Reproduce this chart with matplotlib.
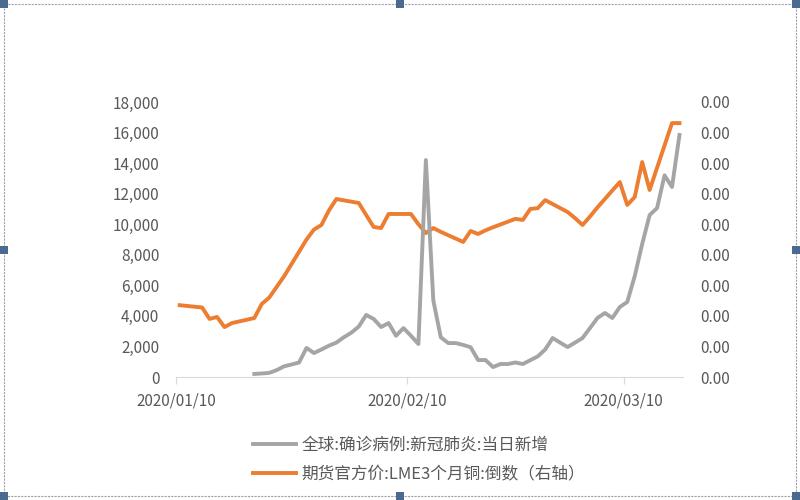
import numpy as np
import pandas as pd
import matplotlib
matplotlib.use("Agg")
import matplotlib.pyplot as plt
import matplotlib.dates as mdates
from matplotlib.patches import Rectangle
from matplotlib.ticker import FuncFormatter

plt.rcParams['font.family'] = ['Noto Sans CJK SC', 'DejaVu Sans']

# global new confirmed cases per day (left axis)
case_dates = pd.date_range('2020-01-20', '2020-03-17')
new_cases = [200, 230, 270, 450, 700, 820, 950, 1900, 1570, 1800,
             2050, 2250, 2600, 2900, 3300, 4060, 3800, 3270, 3530, 2700,
             3200, 2700, 2160, 14200, 5000, 2600, 2220, 2220, 2100, 1950,
             1110, 1110, 650, 850, 850, 950, 850, 1100, 1350, 1800,
             2550, 2250, 1960, 2250, 2550, 3200, 3860, 4190, 3860, 4580,
             4910, 6600, 8700, 10600, 11060, 13200, 12440, 15840]

# LME 3-month copper, reciprocal (right axis), stored in units of 1e-8
lme_dates = pd.bdate_range('2020-01-10', '2020-03-17')
lme_inv_1e8 = [4700,
               4550, 3800, 3930, 3270, 3530,
               3860, 4780, 5200, 5900, 6600,
               9000, 9650, 9950, 10900, 11650,
               11390, 10600, 9820, 9750, 10670,
               10670, 10000, 9420, 9750, 9500,
               8840, 9560, 9360, 9600, 9800,
               10350, 10280, 11000, 11050, 11580,
               10800, 10400, 9950, 10500, 11100,
               12760, 11260, 11780, 14070, 12240,
               16620, 16620]
lme_inv = np.array(lme_inv_1e8) * 1e-8

tick_dates = ['2020-01-10', '2020-02-10', '2020-03-10']
tick_labels = ['2020/01/10', '2020/02/10', '2020/03/10']
series_labels = ['全球:确诊病例:新冠肺炎:当日新增', '期货官方价:LME3个月铜:倒数（右轴）']

gray = '#A5A5A5'
orange = '#ED7D31'
text_c = '#595959'

fig = plt.figure(figsize=(8, 5), dpi=100)
ax = fig.add_axes([0.22, 0.246, 0.634, 0.55])
ax2 = ax.twinx()

l1, = ax.plot(case_dates, new_cases, color=gray, lw=2.8, solid_joinstyle='round')
l2, = ax2.plot(lme_dates, lme_inv, color=orange, lw=2.8, solid_joinstyle='round')
ax.set_zorder(ax2.get_zorder() + 1)
ax.patch.set_visible(False)

half = pd.Timedelta(hours=12)
ax.set_xlim(pd.Timestamp('2020-01-10') - half, pd.Timestamp('2020-03-17') + half)
ax.set_xticks([pd.Timestamp(d) - half for d in tick_dates])
ax.set_xticklabels(tick_labels)

ax.set_ylim(0, 18000)
ax.set_yticks(np.arange(0, 18001, 2000))
ax.yaxis.set_major_formatter(FuncFormatter(lambda v, p: f'{v:,.0f}'))
ax2.set_ylim(0, 0.00018)
ax2.set_yticks(np.linspace(0, 0.00018, 10))
ax2.yaxis.set_major_formatter(FuncFormatter(lambda v, p: f'{v:.2f}'))

for a in (ax, ax2):
    for s in ['top', 'left', 'right']:
        a.spines[s].set_visible(False)
    a.spines['bottom'].set_color('#D9D9D9')
    a.tick_params(labelsize=11, colors=text_c)
ax.tick_params(axis='y', length=0, pad=12)
ax2.tick_params(axis='y', length=0, pad=12)
ax.tick_params(axis='x', length=5, color='#D9D9D9', pad=6, direction='out')
ax2.spines['bottom'].set_visible(False)

fig.legend([l1, l2], series_labels, loc='center left',
           bbox_to_anchor=(253 / 800, 1 - 460 / 500), frameon=False,
           fontsize=12, labelcolor=text_c, handlelength=2.6,
           handletextpad=0.3, labelspacing=0.75, borderpad=0, borderaxespad=0)

# selection frame with handles around the chart object
fig.patches.append(Rectangle((4 / 800, 4 / 500), 792 / 800, 492 / 500,
                             transform=fig.transFigure, fill=False,
                             ec='#9AA3AE', lw=0.8, ls=(0, (2, 1))))
for hx, hy in [(4, 4), (400, 4), (796, 4), (4, 250), (796, 250),
               (4, 496), (400, 496), (796, 496)]:
    fig.patches.append(Rectangle(((hx - 4) / 800, 1 - (hy + 4) / 500), 8 / 800, 8 / 500,
                                 transform=fig.transFigure, fc='#4A6A90', ec='none'))

fig.savefig('out.png', dpi=100)
